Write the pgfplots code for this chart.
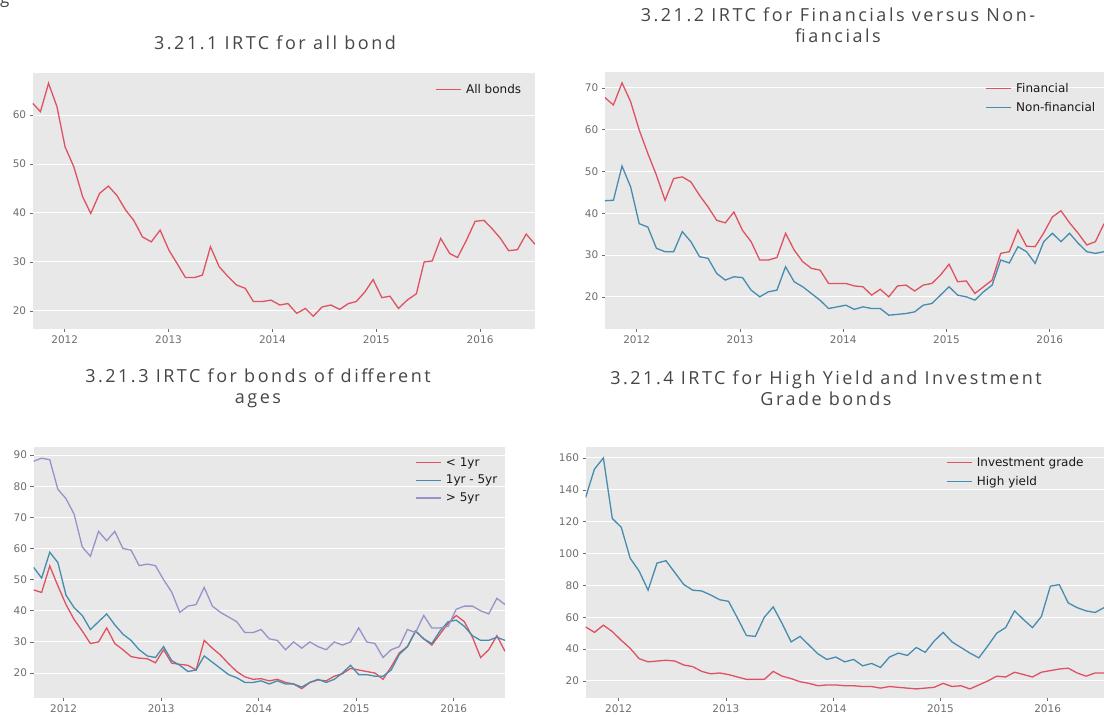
\documentclass[border=0pt]{standalone}
\usepackage{fontspec}
\setmainfont{DejaVu Sans}
\newfontfamily\titlefont[LetterSpace=14]{Open Sans}
\usepackage{pgfplots}
\pgfplotsset{compat=1.18}
\definecolor{bgc}{RGB}{232,232,232}
\definecolor{cred}{RGB}{222,82,98}
\definecolor{cblue}{RGB}{70,140,175}
\definecolor{cpurp}{RGB}{152,146,202}
\definecolor{tickc}{RGB}{110,110,110}
\definecolor{titlec}{RGB}{70,70,70}
\pgfplotsset{
 ggp/.style={
  scale only axis,
  axis background/.style={fill=bgc},
  axis line style={draw=none},
  ymajorgrids, grid style={white, line width=1pt},
  tick align=outside, major tick length=3pt,
  tick style={tickc, line width=0.6pt},
  xtick pos=left, ytick pos=left,
  tick label style={font=\fontsize{10.5}{12}\selectfont, text=tickc},
  /pgf/number format/assume math mode=true,
  legend style={draw=none, fill=none, font=\fontsize{12}{14}\selectfont, text=black!90,
    inner sep=0pt, row sep=5pt, column sep=3pt, nodes={inner sep=1.5pt}},
  legend cell align=left,
  legend image code/.code={\draw[##1, line width=1.3pt] (0pt,0pt) -- (25pt,0pt);},
  every axis plot/.append style={line width=1.3pt, no markers},
  xticklabels={2012,2013,2014,2015,2016},
 },
 mon/.style={xmin=0, xmax=58, xtick={3.7,15.7,27.7,39.7,51.7}},
}
\begin{document}
\begin{tikzpicture}[x=1pt,y=1pt]
\useasboundingbox (0,0) rectangle (1104,720);

% fragment of text above the figure
\node[font=\titlefont\fontsize{17}{21}\selectfont, text=titlec, anchor=base west, inner sep=0pt] at (0,716) {g};

% titles
\node[font=\titlefont\fontsize{18}{21}\selectfont, text=titlec] at (275,677) {3.21.1 IRTC for all bond};
\node[font=\titlefont\fontsize{18}{21}\selectfont, text=titlec, align=center] at (838,695) {3.21.2 IRTC for Financials versus Non-\\fiancials};
\node[font=\titlefont\fontsize{18}{21}\selectfont, text=titlec, align=center] at (258,332) {3.21.3 IRTC for bonds of different\\ages};
\node[font=\titlefont\fontsize{18}{21}\selectfont, text=titlec, align=center] at (826,332) {3.21.4 IRTC for High Yield and Investment\\Grade bonds};

% Panel 1
\begin{axis}[ggp, at={(32.7pt,391pt)}, anchor=south west, width=502.3pt, height=256pt,
  xmin=93, xmax=1520, xtick={184,479,774,1069,1364},
  ymin=16.3, ymax=68.6, ytick={20,30,40,50,60},
  legend style={at={(axis description cs:0.801,0.962)}, anchor=north west}]
\addplot[cred] coordinates {(93,62.4)(115,60.7)(138,66.5)(162,61.7)(185,53.5)(210,49.4)(235,43.3)(258,39.9)(283,44.0)(308,45.5)(332,43.6)(357,40.6)(380,38.5)(405,35.1)(430,34.1)(455,36.5)(480,32.4)(503,29.7)(527,26.8)(552,26.8)(575,27.3)(598,33.1)(623,29.0)(648,27.0)(672,25.3)(697,24.6)(720,21.9)(745,21.9)(770,22.2)(795,21.2)(818,21.5)(843,19.5)(868,20.5)(890,18.9)(915,20.8)(940,21.2)(965,20.3)(990,21.5)(1012,21.9)(1037,23.9)(1060,26.4)(1085,22.7)(1108,23.0)(1132,20.5)(1157,22.2)(1183,23.5)(1205,30.0)(1228,30.2)(1252,34.8)(1278,31.7)(1300,30.9)(1325,34.4)(1350,38.3)(1375,38.5)(1398,36.8)(1422,34.8)(1445,32.3)(1470,32.5)(1495,35.7)(1520,33.6)};
\addlegendentry{All bonds}
\end{axis}

% Panel 2
\begin{axis}[ggp, mon, at={(604.8pt,391pt)}, anchor=south west, width=499.2pt, height=257pt,
  ymin=12.3, ymax=73.8, ytick={20,30,40,50,60,70},
  legend style={at={(axis description cs:0.762,0.962)}, anchor=north west}]
\addplot[cred] table[x expr=\coordindex, y index=0] {
67.7
65.9
71.2
66.7
59.9
54.3
49.1
43.1
48.3
48.7
47.5
44.3
41.5
38.3
37.7
40.3
35.9
33.2
28.8
28.8
29.4
35.2
31.2
28.4
26.8
26.4
23.2
23.2
23.2
22.6
22.4
20.4
21.8
20.0
22.6
22.8
21.4
22.8
23.2
25.2
27.8
23.6
23.8
20.8
22.4
24.0
30.4
30.8
36.0
32.1
32.0
35.3
39.1
40.6
37.7
35.2
32.4
33.2
37.5
};
\addlegendentry{Financial}
\addplot[cblue] table[x expr=\coordindex, y index=0] {
43.0
43.1
51.3
46.3
37.5
36.7
31.6
30.8
30.8
35.6
33.2
29.6
29.2
25.6
24.0
24.8
24.6
21.6
20.0
21.2
21.6
27.2
23.6
22.4
20.8
19.2
17.2
17.6
18.0
17.0
17.6
17.2
17.2
15.6
15.8
16.0
16.4
18.0
18.4
20.4
22.4
20.4
20.0
19.2
21.2
22.8
28.8
28.1
32.0
30.8
28.0
33.2
35.2
33.2
35.2
32.8
30.8
30.4
30.8
};
\addlegendentry{Non-financial}
\end{axis}

% Panel 3
\begin{axis}[ggp, mon, at={(33.5pt,22pt)}, anchor=south west, width=471.5pt, height=251pt,
  ymin=12.0, ymax=92.6, ytick={20,30,40,50,60,70,80,90},
  legend style={at={(axis description cs:0.809,0.965)}, anchor=north west, row sep=4.5pt}]
\addplot[cred] table[x expr=\coordindex, y index=0] {
46.7
45.9
54.4
48.0
42.0
37.2
33.5
29.5
30.0
34.5
29.5
27.5
25.3
24.8
24.6
23.3
27.5
23.2
22.8
22.5
21.0
30.5
28.0
25.8
23.0
20.5
18.8
18.0
18.2
17.5
18.0
17.0
16.5
15.0
17.0
17.8
17.5
19.0
19.8
21.5
21.0
20.5
20.0
18.0
22.0
26.5
28.5
33.5
31.0
29.0
32.5
36.0
38.5
36.5
31.5
25.0
27.5
32.0
27.0
};
\addlegendentry{< 1yr}
\addplot[cblue] table[x expr=\coordindex, y index=0] {
54.0
50.5
58.8
55.5
45.0
41.0
38.5
34.0
36.5
39.0
35.5
32.5
30.5
27.5
25.5
25.0
28.5
24.0
22.5
20.5
21.0
25.5
23.5
21.5
19.5
18.5
17.0
17.0
17.5
16.5
17.5
16.5
16.5
15.5
17.0
18.0
17.0
18.0
20.0
22.5
19.5
19.5
19.0
19.0
21.0
26.0
28.5
33.5
31.0
29.5
33.5
36.5
37.0
35.0
32.0
30.5
30.5
31.5
30.5
};
\addlegendentry{1yr - 5yr}
\addplot[cpurp] table[x expr=\coordindex, y index=0] {
88.0
89.0
88.5
79.0
76.0
71.0
60.5
57.5
65.5
62.5
65.5
60.0
59.5
54.5
55.0
54.5
50.0
46.0
39.5
41.5
42.0
47.5
41.5
39.5
38.0
36.5
33.0
33.0
34.0
31.0
30.5
27.5
30.0
28.0
30.0
28.5
27.5
30.0
29.0
30.0
34.5
30.0
29.5
25.0
27.5
28.5
34.0
33.0
38.5
34.5
34.5
35.0
40.5
41.5
41.5
40.0
39.0
44.0
42.0
};
\addlegendentry{> 5yr}
\end{axis}

% Panel 4
\begin{axis}[ggp, mon, at={(585.5pt,22pt)}, anchor=south west, width=518.5pt, height=251pt,
  ymin=9.3, ymax=166.9, ytick={20,40,60,80,100,120,140,160},
  legend style={at={(axis description cs:0.695,0.965)}, anchor=north west}]
\addplot[cred] table[x expr=\coordindex, y index=0] {
54
50.5
55
51
45.5
40.5
34
32
32.5
33
32.5
30
29
26
24.5
25
24
22.5
21
21
21
26
23
21.5
19.5
18.5
17
17.5
17.5
17
17
16.5
16.5
15.5
16.5
16
15.5
15
15.5
16
18.5
16.5
17
15
17.5
20
23
22.5
25.5
24
22.5
25.5
26.5
27.5
28
25
23
25
25
};
\addlegendentry{Investment grade}
\addplot[cblue] table[x expr=\coordindex, y index=0] {
135
153
160
122
116.5
97
89
77
94
95.5
88
80.5
77
76.5
74
71
70
59.5
48.5
48
60
66.5
56
44.5
48
42.5
37
33.5
35
32
33.5
29.5
31
28.5
35
37.5
36
41
38
45
50.5
44.5
41
37.5
34.5
42
50
53.5
64
58.5
53.5
60.5
79.5
80.5
69
66
64
63
66
};
\addlegendentry{High yield}
\end{axis}
\end{tikzpicture}
\end{document}
